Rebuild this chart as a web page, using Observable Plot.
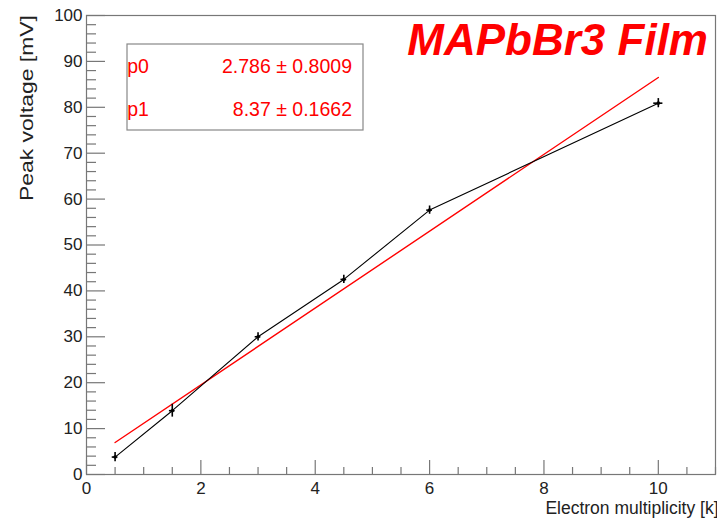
<!DOCTYPE html>
<html>
<head>
<meta charset="utf-8">
<script src="https://cdn.jsdelivr.net/npm/d3@7"></script>
<script src="https://cdn.jsdelivr.net/npm/@observablehq/plot@0.6"></script>
<style>
  html, body { margin: 0; padding: 0; background: #fff; }
  #chart svg { display: block; font-family: "Liberation Sans", Arial, sans-serif; }
</style>
</head>
<body>
<div id="chart"></div>
<script>
// Measured data (electron multiplicity [k] vs peak voltage [mV])
const multiplicity = [0.5, 1.5, 3, 4.5, 6, 10];
const peakVoltage  = [3.8, 13.9, 30.0, 42.5, 57.6, 80.9];
const xError       = [0.05, 0.05, 0.05, 0.05, 0.05, 0.08];
const yError       = [1.0, 1.4, 0.9, 0.9, 0.9, 1.0];

// Linear fit line (as drawn)
const fitX = [0.5, 10];
const fitY = [6.97, 86.49];

// Fit parameters shown in the stats box
const paramNames  = ["p0", "p1"];
const paramValues = ["2.786 \u00b1 0.8009", "8.37 \u00b1 0.1662"];

// Axis ticks
const xTicks = [0, 2, 4, 6, 8, 10];
const yTicks = [0, 10, 20, 30, 40, 50, 60, 70, 80, 90, 100];
const xMinor = d3.range(0, 11.01, 0.5).filter(v => !xTicks.includes(v));
const yMinor = d3.range(0, 100.01, 2).filter(v => !yTicks.includes(v));

const titleText = "MAPbBr3 Film";
const xLabel = "Electron multiplicity [k]";
const yLabel = "Peak voltage [mV]";

const points = multiplicity.map((x, i) => ({x, y: peakVoltage[i], ex: xError[i], ey: yError[i]}));
const fit = fitX.map((x, i) => ({x, y: fitY[i]}));

const W = 717, H = 519;
const mL = 86, mR = 2, mT = 15, mB = 45;
const plotW = W - mL - mR, plotH = H - mT - mB;
const axisGray = "#777";

const chart = Plot.plot({
  width: W, height: H,
  marginLeft: mL, marginRight: mR, marginTop: mT, marginBottom: mB,
  style: {fontFamily: "'Liberation Sans', Arial, sans-serif", background: "#fff"},
  x: {domain: [0, 11]},
  y: {domain: [0, 100]},
  marks: [
    Plot.frame({stroke: axisGray, strokeWidth: 1.2}),
    // inward major / minor ticks
    Plot.tickY(yTicks, {y: d => d, stroke: axisGray, strokeWidth: 1.2, insetRight: plotW - 19}),
    Plot.tickY(yMinor, {y: d => d, stroke: axisGray, strokeWidth: 1.2, insetRight: plotW - 10}),
    Plot.tickX(xTicks, {x: d => d, stroke: axisGray, strokeWidth: 1.2, insetTop: plotH - 14}),
    Plot.tickX(xMinor, {x: d => d, stroke: axisGray, strokeWidth: 1.2, insetTop: plotH - 7}),
    Plot.axisY(yTicks, {tickSize: 0, tickPadding: 4, fontSize: 17, fill: "#222", label: null}),
    Plot.axisX(xTicks, {tickSize: 0, tickPadding: 7, fontSize: 17, fill: "#222", label: null}),
    // fit line
    Plot.line(fit, {x: "x", y: "y", stroke: "#ff0000", strokeWidth: 1.4}),
    // data graph
    Plot.line(points, {x: "x", y: "y", stroke: "#000", strokeWidth: 1.1}),
    Plot.ruleX(points, {x: "x", y1: d => d.y - d.ey, y2: d => d.y + d.ey, stroke: "#000", strokeWidth: 1.6}),
    Plot.ruleY(points, {y: "y", x1: d => d.x - d.ex, x2: d => d.x + d.ex, stroke: "#000", strokeWidth: 1.6}),
    Plot.dot(points, {x: "x", y: "y", r: 1.8, fill: "#000"}),
    // x axis title
    Plot.text([xLabel], {frameAnchor: "bottom-right", text: d => d, dx: 3, dy: 39, textAnchor: "end", lineAnchor: "bottom", fontSize: 17.5, fill: "#222"})
  ]
});

document.getElementById("chart").appendChild(chart);

const svg = d3.select(chart);

// y axis title
svg.append("text")
  .attr("transform", "translate(33,15) rotate(-90)")
  .attr("text-anchor", "end")
  .attr("fill", "#222")
  .attr("font-size", 19)
  .attr("textLength", 186)
  .attr("lengthAdjust", "spacingAndGlyphs")
  .text(yLabel);

// Stats box
const box = svg.append("g");
box.append("rect")
  .attr("x", 127).attr("y", 44).attr("width", 236).attr("height", 86)
  .attr("fill", "#fff").attr("stroke", "#888").attr("stroke-width", 1.2);
paramNames.forEach((name, i) => {
  const yy = 73 + i * 43;
  box.append("text").attr("x", 138).attr("y", yy).attr("fill", "#ff0000")
    .attr("font-size", 19.5).text(name);
  box.append("text").attr("x", 352).attr("y", yy).attr("fill", "#ff0000")
    .attr("font-size", 19.5).attr("text-anchor", "end").text(paramValues[i]);
});

// Title
svg.append("text")
  .attr("x", 708).attr("y", 55)
  .attr("text-anchor", "end")
  .attr("fill", "#ff0000")
  .attr("font-size", 44)
  .attr("font-weight", "bold")
  .attr("font-style", "italic")
  .attr("font-family", "'Liberation Sans', Arial, sans-serif")
  .text(titleText);
</script>
</body>
</html>
